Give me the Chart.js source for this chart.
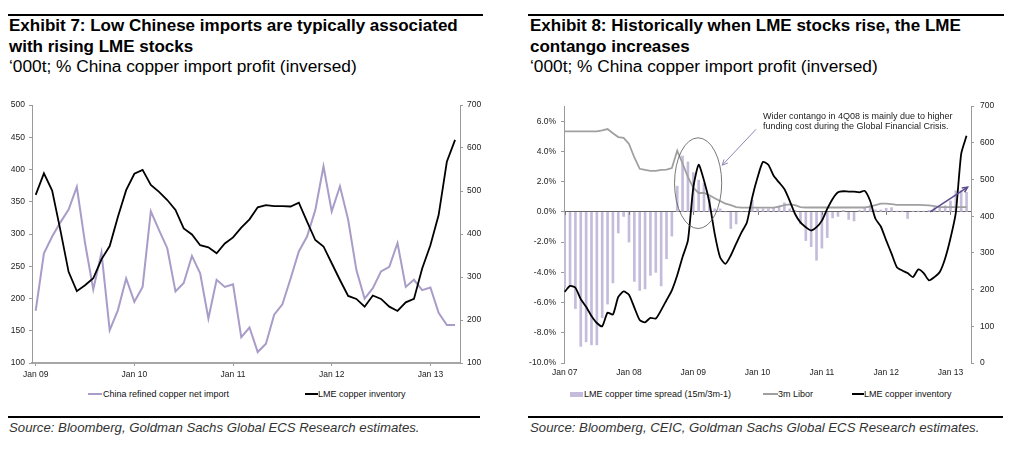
<!DOCTYPE html>
<html><head><meta charset="utf-8">
<script src="https://cdn.jsdelivr.net/npm/chart.js@4.4.1/dist/chart.umd.min.js"></script>
<style>
body{margin:0;width:1011px;height:450px;background:#fff;position:relative;overflow:hidden;font-family:"Liberation Sans",Arial,sans-serif;color:#000}
.rule{position:absolute;height:2px;background:#000}
.title{position:absolute;font-weight:bold;font-size:17px;line-height:21px;white-space:nowrap}
.sub{position:absolute;font-size:17.3px;line-height:20px;white-space:nowrap}
.src{position:absolute;font-style:italic;font-size:13.2px;color:#333;white-space:nowrap}
.box{position:absolute}
.leg{position:absolute;font-size:9px;line-height:10px;color:#111;white-space:nowrap}
.sw{position:absolute}
.note{position:absolute;font-size:9px;line-height:10px;color:#222;white-space:nowrap}
</style></head><body>

<div class="rule" style="left:8px;top:14px;width:475px"></div>
<div class="title" style="left:9px;top:14.7px">Exhibit 7: Low Chinese imports are typically associated<br>with rising LME stocks</div>
<div class="sub" style="left:9px;top:56.3px">‘000t; % China copper import profit (inversed)</div>

<div class="rule" style="left:528px;top:14px;width:476px"></div>
<div class="title" style="left:530px;top:14.7px">Exhibit 8: Historically when LME stocks rise, the LME<br>contango increases</div>
<div class="sub" style="left:530px;top:56.3px">‘000t; % China copper import profit (inversed)</div>

<div class="box" style="left:0;top:95px;width:505px;height:290px"><canvas id="c1"></canvas></div>
<div class="box" style="left:505px;top:95px;width:506px;height:290px"><canvas id="c2"></canvas></div>

<div class="note" style="left:763px;top:111px">Wider contango in 4Q08 is mainly due to higher<br>funding cost during the Global Financial Crisis.</div>

<div class="sw" style="left:88px;top:393px;width:14px;height:2px;background:#a99cc8"></div>
<div class="leg" style="left:103px;top:389px">China refined copper net import</div>
<div class="sw" style="left:305px;top:393px;width:13px;height:2px;background:#000"></div>
<div class="leg" style="left:318px;top:389px">LME copper inventory</div>

<div class="sw" style="left:570px;top:392px;width:13px;height:5px;background:#c5bcdc"></div>
<div class="leg" style="left:584px;top:389px">LME copper time spread (15m/3m-1)</div>
<div class="sw" style="left:763px;top:393px;width:15px;height:1.5px;background:#a0a0a0"></div>
<div class="leg" style="left:778px;top:389px">3m Libor</div>
<div class="sw" style="left:852px;top:393px;width:12px;height:2px;background:#000"></div>
<div class="leg" style="left:864px;top:389px">LME copper inventory</div>

<div class="rule" style="left:8px;top:416px;width:472px;height:1.5px"></div>
<div class="src" style="left:9px;top:420px">Source: Bloomberg, Goldman Sachs Global ECS Research estimates.</div>
<div class="rule" style="left:528px;top:416px;width:475px;height:1.5px"></div>
<div class="src" style="left:530px;top:420px">Source: Bloomberg, CEIC, Goldman Sachs Global ECS Research estimates.</div>

<script>
// ---------- Exhibit 7 (monthly, Jan 09 - Apr 13) ----------
const tickLabels1 = ['Jan 09','Jan 10','Jan 11','Jan 12','Jan 13'];
const chinaImport = [181,270,296,318,338,373,286,214,271,151,182,231,195,218,335,306,278,211,224,266,239,169,229,218,222,140,155,117,130,175,191,231,273,296,337,405,335,374,322,244,200,216,242,249,286,218,229,213,217,178,159,159];
const lmeInventory1 = [491,541,501,409,312,267,281,297,341,372,440,502,540,549,514,498,479,456,413,399,374,369,355,378,392,415,434,462,467,465,465,464,473,429,386,371,332,293,256,249,231,257,249,231,221,241,249,320,374,444,568,619];

// ---------- Exhibit 8 (monthly, Jan 07 - Apr 13) ----------
const tickLabels2 = ['Jan 07','Jan 08','Jan 09','Jan 10','Jan 11','Jan 12','Jan 13'];
const timeSpread = [-5.0,-4.9,-6.4,-8.9,-8.6,-8.8,-8.8,-7.0,-6.1,-4.7,
 -1.4,-0.3,-2.0,-4.6,-5.2,-5.1,-4.2,-4.0,-4.9,-3.1,
 -1.6,1.7,3.7,3.3,2.6,2.1,1.9,1.0,0.2,0.2,
 0,-1.1,-0.8,0,0,0.77,0.2,0.2,0.2,0.3,
 0.4,0.6,0.2,0.1,-0.8,-1.9,-2.3,-3.2,-2.4,-1.7,
 -0.4,-0.3,0.1,-0.5,-0.6,0.1,0.24,0.46,0.13,0.13,
 0.24,0.28,0.05,0.05,-0.44,0.05,0.05,0.05,0.1,0.28,
 0.28,0.4,0.72,1.4,1.4,1.3];
const libor3m = [5.33,5.33,5.33,5.33,5.33,5.33,5.33,5.4,5.48,5.2,
 4.95,4.9,4.5,3.6,2.85,2.78,2.72,2.72,2.78,2.8,
 2.9,4.05,3.2,2.3,1.6,1.25,1.25,1.1,0.9,0.72,
 0.55,0.45,0.32,0.28,0.28,0.28,0.28,0.28,0.28,0.28,
 0.35,0.45,0.5,0.45,0.32,0.29,0.29,0.29,0.29,0.29,
 0.29,0.29,0.29,0.29,0.29,0.29,0.29,0.35,0.45,0.55,
 0.55,0.52,0.47,0.47,0.47,0.47,0.47,0.45,0.43,0.38,
 0.31,0.31,0.31,0.31,0.31,0.31];
const lmeInventory2 = [194,210,205,174,153,128,109,100,137,132,
 180,195,186,151,117,111,123,121,144,171,
 198,239,289,334,478,540,497,438,352,288,
 270,293,325,356,383,451,506,548,540,510,
 492,474,442,406,383,370,361,370,388,420,
 447,465,468,467,467,465,469,442,393,372,
 334,298,261,252,245,234,255,245,225,234,
 248,285,340,410,570,619];

// annotation positions in data units (month index, % axis)
const noteEllipse = {x:24.9, y:1.9, rx:4.4, ry:3.0};
const noteArrows = [
  {x1:35.7, y1:5.46, x2:29.4, y2:3.09, color:'#8a86b8', width:1},
  {x1:68.2, y1:0.0, x2:75.2, y2:1.64, color:'#5b4a8c', width:1.5}
];

const pts = arr => arr.map((v,i)=>({x:i,y:v}));
const tickFont = {family:'"Liberation Sans", Arial, sans-serif', size:8.5};
const axisGray = '#9a9a9a';

Chart.defaults.animation = false;

new Chart(document.getElementById('c1'), {
  type:'line',
  data:{datasets:[
    {label:'China refined copper net import', data:pts(chinaImport), yAxisID:'y', borderColor:'#a99cc8', borderWidth:2, pointRadius:0, tension:0, order:2},
    {label:'LME copper inventory', data:pts(lmeInventory1), yAxisID:'y2', borderColor:'#000', borderWidth:1.8, pointRadius:0, tension:0, order:1}
  ]},
  options:{
    responsive:true, maintainAspectRatio:false,
    layout:{padding:{top:10,left:0,right:0,bottom:0}},
    plugins:{legend:{display:false}, tooltip:{enabled:false}},
    scales:{
      x:{type:'linear', min:-0.45, max:51.6,
        afterBuildTicks:s=>{s.ticks = tickLabels1.map((_,k)=>({value:k*12}));},
        afterFit:s=>{s.height=22;},
        border:{color:'#a6a6a6', width:2},
        grid:{display:true, drawOnChartArea:false, drawTicks:true, tickLength:3, tickColor:axisGray},
        ticks:{font:tickFont, color:'#222', padding:4, autoSkip:false, maxRotation:0, callback:v=>tickLabels1[Math.round(v/12)]}},
      y:{position:'left', min:100, max:500,
        afterFit:s=>{s.width=32;},
        border:{color:axisGray, width:1},
        grid:{display:true, drawOnChartArea:false, tickLength:3, tickColor:axisGray},
        ticks:{stepSize:50, font:tickFont, color:'#222', padding:4}},
      y2:{position:'right', min:100, max:700,
        afterFit:s=>{s.width=45;},
        border:{color:axisGray, width:1},
        grid:{display:true, drawOnChartArea:false, tickLength:3, tickColor:axisGray},
        ticks:{stepSize:100, font:tickFont, color:'#222', padding:4}}
    }
  }
});

const notePlugin = {
  id:'notes',
  afterDatasetsDraw(chart){
    const xs = chart.scales.x, ys = chart.scales.yL, ctx = chart.ctx;
    ctx.save();
    // small tick marks under the zero line at each year
    const y0 = ys.getPixelForValue(0);
    ctx.strokeStyle='#777'; ctx.lineWidth=1;
    xs.ticks.forEach(t=>{
      const px = Math.round(xs.getPixelForValue(t.value))+0.5;
      ctx.beginPath(); ctx.moveTo(px,y0); ctx.lineTo(px,y0+3); ctx.stroke();
    });
    const cx = xs.getPixelForValue(noteEllipse.x), cy = ys.getPixelForValue(noteEllipse.y);
    const rx = Math.abs(xs.getPixelForValue(noteEllipse.x+noteEllipse.rx)-cx);
    const ry = Math.abs(ys.getPixelForValue(noteEllipse.y+noteEllipse.ry)-cy);
    ctx.strokeStyle='#555'; ctx.lineWidth=0.8;
    ctx.beginPath(); ctx.ellipse(cx,cy,rx,ry,0,0,Math.PI*2); ctx.stroke();
    noteArrows.forEach(a=>{
      const x1=xs.getPixelForValue(a.x1), y1=ys.getPixelForValue(a.y1);
      const x2=xs.getPixelForValue(a.x2), y2=ys.getPixelForValue(a.y2);
      ctx.strokeStyle=a.color; ctx.lineWidth=a.width;
      ctx.beginPath(); ctx.moveTo(x1,y1); ctx.lineTo(x2,y2); ctx.stroke();
      const ang=Math.atan2(y2-y1,x2-x1), L=6;
      ctx.beginPath();
      ctx.moveTo(x2-L*Math.cos(ang-0.45), y2-L*Math.sin(ang-0.45));
      ctx.lineTo(x2,y2);
      ctx.lineTo(x2-L*Math.cos(ang+0.45), y2-L*Math.sin(ang+0.45));
      ctx.stroke();
    });
    ctx.restore();
  }
};

new Chart(document.getElementById('c2'), {
  type:'bar',
  data:{datasets:[
    {type:'bar', label:'LME copper time spread (15m/3m-1)', data:pts(timeSpread), yAxisID:'yL', backgroundColor:'#c5bcdc', barThickness:2, order:3},
    {type:'line', label:'3m Libor', data:pts(libor3m), yAxisID:'yL', borderColor:'#a0a0a0', borderWidth:1.8, pointRadius:0, tension:0, order:2},
    {type:'line', label:'LME copper inventory', data:pts(lmeInventory2), yAxisID:'yR', borderColor:'#000', borderWidth:1.8, pointRadius:0, tension:0.2, order:1}
  ]},
  options:{
    responsive:true, maintainAspectRatio:false,
    layout:{padding:{top:10,left:0,right:0,bottom:0}},
    plugins:{legend:{display:false}, tooltip:{enabled:false}},
    scales:{
      x:{type:'linear', min:-0.13, max:75.83, offset:false,
        afterBuildTicks:s=>{s.ticks = tickLabels2.map((_,k)=>({value:k*12}));},
        afterFit:s=>{s.height=22;},
        border:{display:false},
        grid:{display:false, drawTicks:false, tickLength:0},
        ticks:{font:tickFont, color:'#222', padding:5, autoSkip:false, maxRotation:0, callback:v=>tickLabels2[Math.round(v/12)]}},
      yL:{position:'left', min:-10, max:7,
        afterFit:s=>{s.width=59;},
        border:{color:axisGray, width:1},
        grid:{display:true, drawOnChartArea:true, drawTicks:true, tickLength:3, tickColor:axisGray,
          color:c=>(c.tick && c.tick.value===0) ? '#666' : 'rgba(0,0,0,0)'},
        ticks:{stepSize:2, includeBounds:false, font:tickFont, color:'#222', padding:5, callback:v=>v.toFixed(1)+'%'}},
      yR:{position:'right', min:0, max:700,
        afterFit:s=>{s.width=40;},
        border:{color:axisGray, width:1},
        grid:{display:true, drawOnChartArea:false, tickLength:3, tickColor:axisGray},
        ticks:{stepSize:100, font:tickFont, color:'#222', padding:6}}
    }
  },
  plugins:[notePlugin]
});
</script>
</body></html>
